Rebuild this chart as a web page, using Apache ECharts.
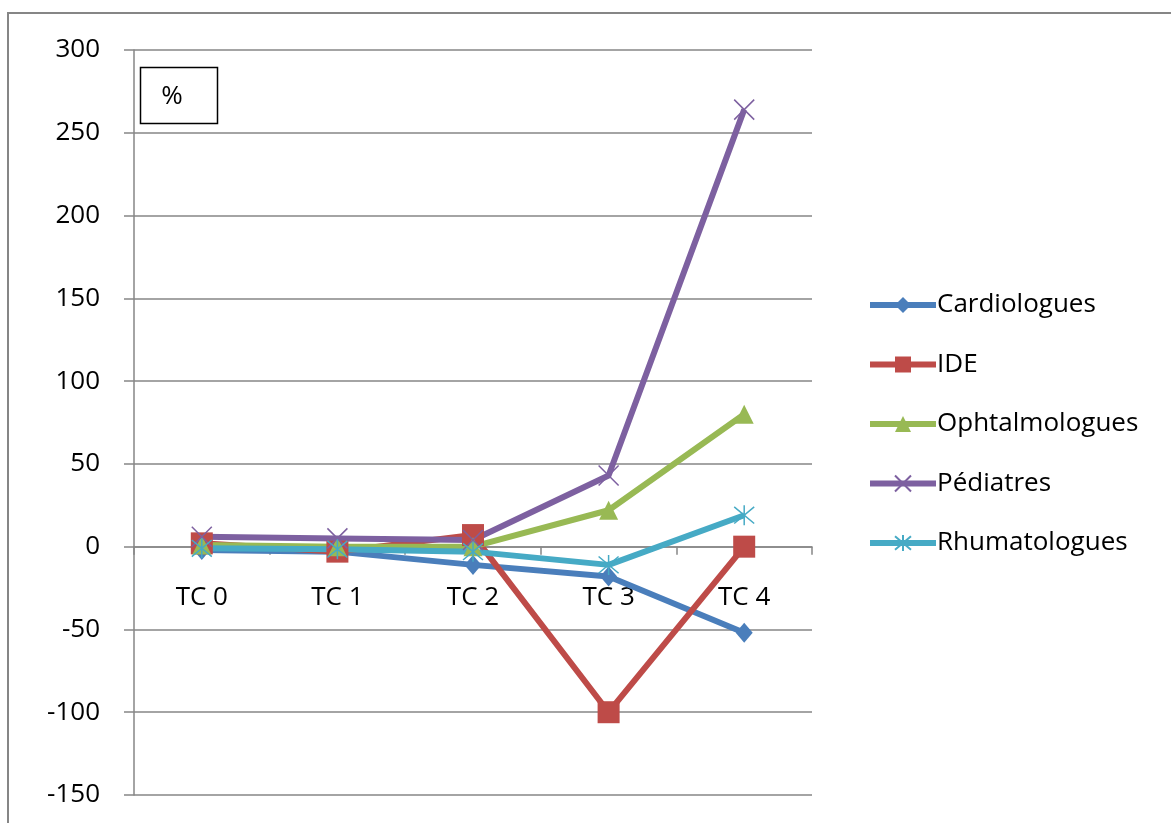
<!DOCTYPE html>
<html>
<head>
<meta charset="utf-8">
<script src="https://cdn.jsdelivr.net/npm/echarts@6/dist/echarts.min.js"></script>
<style>html,body{margin:0;padding:0;background:#fff}#c{width:1171px;height:823px}</style>
</head>
<body>
<div id="c"></div>
<script>
const categories = ['TC 0', 'TC 1', 'TC 2', 'TC 3', 'TC 4'];
const seriesNames = ['Cardiologues', 'IDE', 'Ophtalmologues', 'Pédiatres', 'Rhumatologues'];
const cardiologues = [-2, -3, -11, -18, -52];
const ide = [2, -3, 7, -100, 0];
const ophtalmologues = [1, 0, 0, 22, 80];
const pediatres = [6, 5, 4, 43, 264];
const rhumatologues = [-1, -1.5, -3, -11, 19];
const yTicks = { min: -150, max: 300, interval: 50 };

const colors = ['#4a7ebb', '#be4b48', '#98b954', '#7d60a0', '#46aac5'];
const symbols = [
  'diamond', 'rect', 'triangle',
  'path://M0,0L10,10M10,0L0,10',
  'path://M0,0L10,10M10,0L0,10M5,-1L5,11'
];
const sizes = [[17, 20], 22, 19, 20, 20];
const values = [cardiologues, ide, ophtalmologues, pediatres, rhumatologues];

const chart = echarts.init(document.getElementById('c'), null, { renderer: 'canvas' });
const font = '"Open Sans", "Liberation Sans", sans-serif';

const gridTop = 50, gridBottom = 28, H = 823;
const plotH = H - gridTop - gridBottom;
// distance from the bottom of the plot to the zero value, via the y scale range
const zeroOffset = plotH * (0 - yTicks.min) / (yTicks.max - yTicks.min);

const series = seriesNames.map((n, i) => ({
  name: n,
  type: 'line',
  data: values[i],
  symbol: symbols[i],
  symbolSize: sizes[i],
  showAllSymbol: true,
  lineStyle: { width: 6, color: colors[i] },
  itemStyle: {
    color: i >= 3 ? 'rgba(0,0,0,0)' : colors[i],
    borderColor: colors[i],
    borderWidth: i >= 3 ? 1.5 : 0
  },
  emphasis: { disabled: true },
  animation: false
}));

chart.setOption({
  animation: false,
  color: colors,
  textStyle: { fontFamily: font },
  grid: { left: 134, right: 359, top: gridTop, bottom: gridBottom, containLabel: false, outerBoundsMode: 'none' },
  xAxis: {
    type: 'category',
    data: categories,
    boundaryGap: true,
    position: 'bottom',
    offset: -zeroOffset,
    axisLine: { onZero: false, lineStyle: { color: '#868686', width: 1.5 } },
    axisTick: { show: true, length: 8, inside: false, lineStyle: { color: '#868686', width: 1.5 } },
    axisLabel: { color: '#000', fontSize: 26, margin: 38, fontFamily: font },
    splitLine: { show: false }
  },
  yAxis: {
    type: 'value',
    min: yTicks.min, max: yTicks.max, interval: yTicks.interval,
    axisLine: { show: true, lineStyle: { color: '#868686', width: 1.5 } },
    axisTick: { show: true, length: 10, lineStyle: { color: '#868686', width: 1.5 } },
    axisLabel: { color: '#000', fontSize: 26, margin: 34, fontFamily: font },
    splitLine: { show: true, lineStyle: { color: '#868686', width: 1.5 } }
  },
  legend: {
    orient: 'vertical',
    left: 862,
    top: 287,
    itemWidth: 66,
    itemHeight: 20,
    itemGap: 33.5,
    data: seriesNames,
    lineStyle: { width: 6 },
    textStyle: { color: '#000', fontSize: 26, fontFamily: font, padding: [0, 0, 0, -4] },
    selectedMode: false
  },
  graphic: [
    { type: 'rect', shape: { x: 8, y: 13, width: 1180, height: 830 }, style: { fill: 'none', stroke: '#868686', lineWidth: 2 }, silent: true },
    { type: 'rect', shape: { x: 140.5, y: 67.5, width: 77, height: 56 }, style: { fill: '#fff', stroke: '#000', lineWidth: 1.5 }, z: 10 },
    { type: 'text', x: 172, y: 97, style: { text: '%', fontSize: 26, fontFamily: font, fill: '#000', align: 'center', verticalAlign: 'middle' }, z: 11 }
  ],
  series: series
});
</script>
</body>
</html>
